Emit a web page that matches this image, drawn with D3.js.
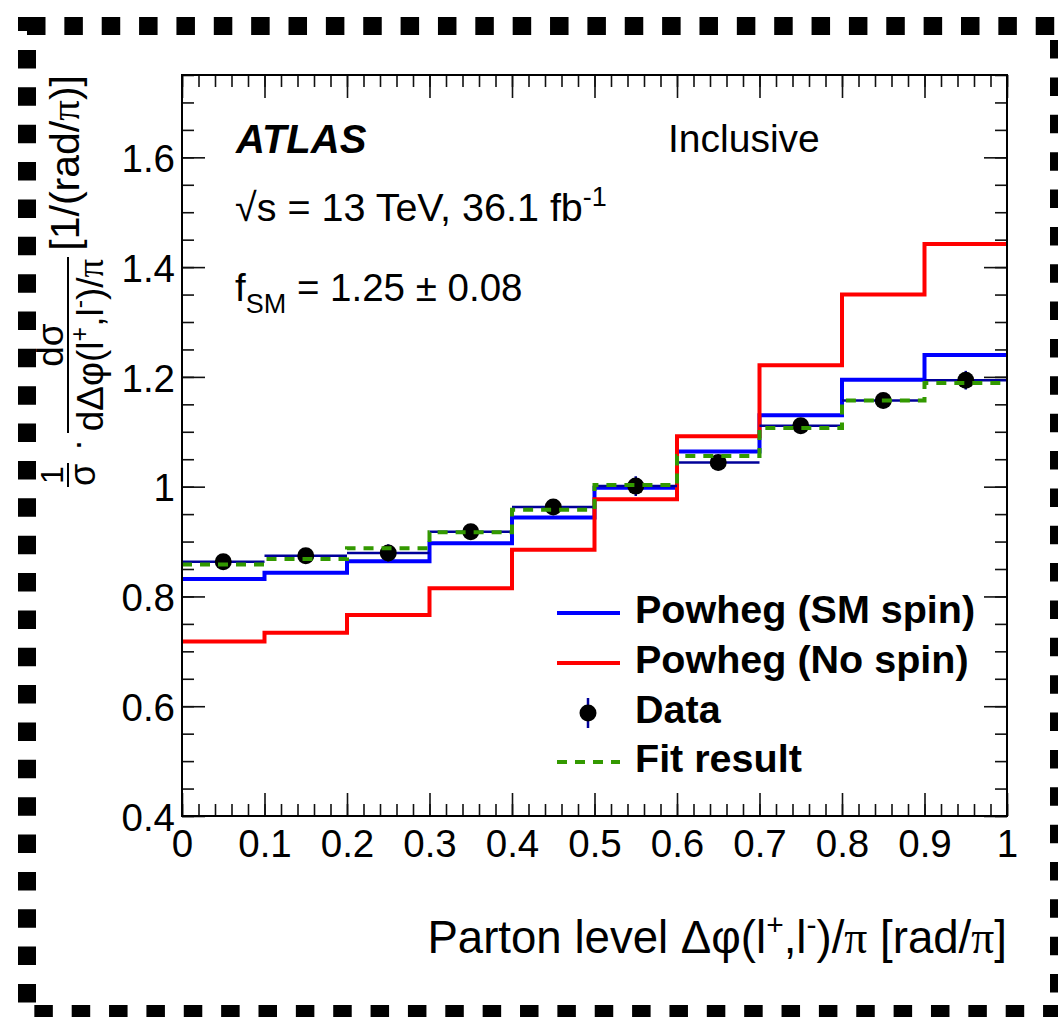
<!DOCTYPE html>
<html>
<head>
<meta charset="utf-8">
<script src="https://cdn.jsdelivr.net/npm/d3@7"></script>
<style>
  body { margin: 0; background: #fff; }
  svg { display: block; }
  text { font-family: "Liberation Sans", Arial, Helvetica, sans-serif; fill: #000; }
</style>
</head>
<body>
<div id="vis-container"></div>
<script>
let width_page = 1058;
let height_page = 1017;

// histogram bins and values
let bin_edges = [0, 0.1, 0.2, 0.3, 0.4, 0.5, 0.6, 0.7, 0.8, 0.9, 1.0];
let powheg_sm = [0.832, 0.843, 0.864, 0.897, 0.944, 0.998, 1.064, 1.130, 1.195, 1.240];
let powheg_nospin = [0.718, 0.734, 0.766, 0.815, 0.885, 0.977, 1.092, 1.221, 1.350, 1.442];
let fit_result = [0.858, 0.868, 0.888, 0.917, 0.958, 1.003, 1.056, 1.107, 1.157, 1.189];
let data_values = [0.863, 0.874, 0.879, 0.918, 0.963, 1.001, 1.044, 1.111, 1.157, 1.194];
let data_errors = [0.012, 0.012, 0.016, 0.012, 0.012, 0.018, 0.014, 0.014, 0.014, 0.017];

let x_ticks = [0, 0.1, 0.2, 0.3, 0.4, 0.5, 0.6, 0.7, 0.8, 0.9, 1.0];
let x_tick_labels = ["0", "0.1", "0.2", "0.3", "0.4", "0.5", "0.6", "0.7", "0.8", "0.9", "1"];
let y_ticks = [0.4, 0.6, 0.8, 1.0, 1.2, 1.4, 1.6];
let y_tick_labels = ["0.4", "0.6", "0.8", "1", "1.2", "1.4", "1.6"];

let legend_labels = ["Powheg (SM spin)", "Powheg (No spin)", "Data", "Fit result"];

let col_sm = "#0000ff", col_nospin = "#ff0000", col_fit = "#339900", col_err = "#000099";

let plot_l = 182, plot_r = 1007, plot_t = 75, plot_b = 816;

let svg = d3.select("#vis-container").append("svg")
    .attr("width", width_page)
    .attr("height", height_page);

// dashed outer border
svg.append("rect")
    .attr("x", 27).attr("y", 26)
    .attr("width", 1032).attr("height", 988)
    .attr("fill", "none")
    .attr("stroke", "#000")
    .attr("stroke-width", 18)
    .attr("stroke-dasharray", "18.5 18.86");

let x = d3.scaleLinear().domain([0, 1]).range([plot_l, plot_r]);
let y = d3.scaleLinear().domain([0.4, 1.75]).range([plot_b, plot_t]);

let x_minor = d3.range(0, 51).map(i => +(i * 0.02).toFixed(2));
let y_minor = d3.range(0, 28).map(i => +(0.4 + i * 0.05).toFixed(2));

function style_axis(g) {
  g.select(".domain").remove();
  g.selectAll(".tick line").attr("stroke", "#111").attr("stroke-width", 1.6);
  g.attr("font-family", "'Liberation Sans', Arial, sans-serif").attr("font-size", 38.5);
  g.selectAll("text").attr("fill", "#000");
}

// bottom axis
svg.append("g").attr("transform", `translate(0,${plot_b})`)
    .call(d3.axisBottom(x).tickValues(x_minor).tickFormat("").tickSizeInner(-12).tickSizeOuter(0))
    .call(style_axis);
svg.append("g").attr("transform", `translate(0,${plot_b})`)
    .call(d3.axisBottom(x).tickValues(x_ticks).tickFormat((d, i) => x_tick_labels[i])
      .tickSizeInner(-23).tickSizeOuter(0).tickPadding(14))
    .call(style_axis);
// top axis
svg.append("g").attr("transform", `translate(0,${plot_t})`)
    .call(d3.axisTop(x).tickValues(x_minor).tickFormat("").tickSizeInner(-12).tickSizeOuter(0))
    .call(style_axis);
svg.append("g").attr("transform", `translate(0,${plot_t})`)
    .call(d3.axisTop(x).tickValues(x_ticks).tickFormat("").tickSizeInner(-23).tickSizeOuter(0))
    .call(style_axis);
// left axis
svg.append("g").attr("transform", `translate(${plot_l},0)`)
    .call(d3.axisLeft(y).tickValues(y_minor).tickFormat("").tickSizeInner(-12).tickSizeOuter(0))
    .call(style_axis);
svg.append("g").attr("transform", `translate(${plot_l},0)`)
    .call(d3.axisLeft(y).tickValues(y_ticks).tickFormat((d, i) => y_tick_labels[i])
      .tickSizeInner(-23).tickSizeOuter(0).tickPadding(7))
    .call(style_axis)
    .selectAll("text").attr("dy", "0.37em");
// right axis
svg.append("g").attr("transform", `translate(${plot_r},0)`)
    .call(d3.axisRight(y).tickValues(y_minor).tickFormat("").tickSizeInner(-12).tickSizeOuter(0))
    .call(style_axis);
svg.append("g").attr("transform", `translate(${plot_r},0)`)
    .call(d3.axisRight(y).tickValues(y_ticks).tickFormat("").tickSizeInner(-23).tickSizeOuter(0))
    .call(style_axis);

// step histogram path
function steps(values) {
  let pts = [];
  values.forEach(function(v, i) {
    pts.push([bin_edges[i], v]);
    pts.push([bin_edges[i + 1], v]);
  });
  return d3.line().x(d => x(d[0])).y(d => y(d[1]))(pts);
}

svg.append("path").attr("d", steps(powheg_sm))
    .attr("fill", "none").attr("stroke", col_sm).attr("stroke-width", 4);
svg.append("path").attr("d", steps(powheg_nospin))
    .attr("fill", "none").attr("stroke", col_nospin).attr("stroke-width", 4);

// data: bin-width bars and vertical errors
let data_g = svg.append("g");
data_g.selectAll("line.xerr")
    .data(data_values).enter().append("line")
    .attr("class", "xerr")
    .attr("x1", (d, i) => x(bin_edges[i]))
    .attr("x2", (d, i) => x(bin_edges[i + 1]))
    .attr("y1", d => y(d)).attr("y2", d => y(d))
    .attr("stroke", col_err).attr("stroke-width", 2.5);
data_g.selectAll("line.yerr")
    .data(data_values).enter().append("line")
    .attr("class", "yerr")
    .attr("x1", (d, i) => x((bin_edges[i] + bin_edges[i + 1]) / 2))
    .attr("x2", (d, i) => x((bin_edges[i] + bin_edges[i + 1]) / 2))
    .attr("y1", (d, i) => y(d - data_errors[i]))
    .attr("y2", (d, i) => y(d + data_errors[i]))
    .attr("stroke", col_err).attr("stroke-width", 2.5);

svg.append("path").attr("d", steps(fit_result))
    .attr("fill", "none").attr("stroke", col_fit).attr("stroke-width", 4)
    .attr("stroke-dasharray", "10 8");

data_g.selectAll("circle")
    .data(data_values).enter().append("circle")
    .attr("cx", (d, i) => x((bin_edges[i] + bin_edges[i + 1]) / 2))
    .attr("cy", d => y(d))
    .attr("r", 8.5)
    .attr("fill", "#000");

// plot frame
svg.append("rect")
    .attr("x", plot_l).attr("y", plot_t)
    .attr("width", plot_r - plot_l).attr("height", plot_b - plot_t)
    .attr("fill", "none").attr("stroke", "#000").attr("stroke-width", 2);

// labels inside the frame
svg.append("text").attr("x", 236).attr("y", 153)
    .attr("font-size", 40).attr("font-weight", "bold").attr("font-style", "italic")
    .text("ATLAS");
svg.append("text").attr("x", 668).attr("y", 152)
    .attr("font-size", 39).text("Inclusive");

let energy = svg.append("text").attr("x", 235).attr("y", 221).attr("font-size", 39.5);
energy.append("tspan").text("\u221As = 13 TeV, 36.1 fb");
energy.append("tspan").attr("dy", -15).attr("font-size", 27).text("-1");

let fsm = svg.append("text").attr("x", 235).attr("y", 301).attr("font-size", 38.5);
fsm.append("tspan").text("f");
fsm.append("tspan").attr("dy", 12).attr("font-size", 27).text("SM");
fsm.append("tspan").attr("dy", -12).text(" = 1.25 \u00B1 0.08");

// legend
let leg_y = [613, 663, 713, 762];
svg.append("line").attr("x1", 557).attr("x2", 620).attr("y1", leg_y[0]).attr("y2", leg_y[0])
    .attr("stroke", col_sm).attr("stroke-width", 4);
svg.append("line").attr("x1", 557).attr("x2", 620).attr("y1", leg_y[1]).attr("y2", leg_y[1])
    .attr("stroke", col_nospin).attr("stroke-width", 4);
svg.append("line").attr("x1", 588).attr("x2", 588).attr("y1", leg_y[2] - 15).attr("y2", leg_y[2] + 15)
    .attr("stroke", col_err).attr("stroke-width", 2.5);
svg.append("circle").attr("cx", 588).attr("cy", leg_y[2]).attr("r", 8.5).attr("fill", "#000");
svg.append("line").attr("x1", 557).attr("x2", 620).attr("y1", leg_y[3]).attr("y2", leg_y[3])
    .attr("stroke", col_fit).attr("stroke-width", 4).attr("stroke-dasharray", "10 8");

svg.selectAll("text.legend")
    .data(legend_labels).enter().append("text")
    .attr("class", "legend")
    .attr("x", 635)
    .attr("y", (d, i) => leg_y[i] + 10)
    .attr("font-size", 39.5).attr("font-weight", "bold")
    .text(d => d);

// x axis title
let xt = svg.append("text").attr("x", 1007).attr("y", 953)
    .attr("text-anchor", "end").attr("font-size", 45.6);
xt.append("tspan").text("Parton level \u0394\u03C6(l");
xt.append("tspan").attr("dy", -18).attr("font-size", 30).text("+");
xt.append("tspan").attr("dy", 18).text(",l");
xt.append("tspan").attr("dy", -18).attr("font-size", 30).text("-");
xt.append("tspan").attr("dy", 18).text(")/");
xt.append("tspan").attr("font-family", "'Liberation Serif', serif").text("\u03C0");
xt.append("tspan").text(" [rad/");
xt.append("tspan").attr("font-family", "'Liberation Serif', serif").text("\u03C0");
xt.append("tspan").text("]");

// y axis title, rotated
let yt = svg.append("g").attr("transform", "translate(79,500) rotate(-90)");
yt.append("text").attr("x", 25).attr("y", -16).attr("text-anchor", "middle")
    .attr("font-size", 32).text("1");
yt.append("line").attr("x1", 13).attr("x2", 37).attr("y1", -11).attr("y2", -11)
    .attr("stroke", "#000").attr("stroke-width", 2);
yt.append("text").attr("x", 25).attr("y", 16).attr("text-anchor", "middle")
    .attr("font-size", 36).text("\u03C3");
yt.append("text").attr("x", 55).attr("y", 10).attr("text-anchor", "middle")
    .attr("font-size", 36).text("\u00B7");
yt.append("line").attr("x1", 67).attr("x2", 243).attr("y1", -11).attr("y2", -11)
    .attr("stroke", "#000").attr("stroke-width", 2);
yt.append("text").attr("x", 155).attr("y", -16).attr("text-anchor", "middle")
    .attr("font-size", 37).text("d\u03C3");
let den = yt.append("text").attr("x", 155).attr("y", 24).attr("text-anchor", "middle")
    .attr("font-size", 37);
den.append("tspan").text("d\u0394\u03C6(l");
den.append("tspan").attr("dy", -15).attr("font-size", 25).text("+");
den.append("tspan").attr("dy", 15).text(",l");
den.append("tspan").attr("dy", -15).attr("font-size", 25).text("-");
den.append("tspan").attr("dy", 15).text(")/");
den.append("tspan").attr("font-family", "'Liberation Serif', serif").text("\u03C0");
let unit = yt.append("text").attr("x", 425).attr("y", 0).attr("text-anchor", "end")
    .attr("font-size", 41);
unit.append("tspan").text("[1/(rad/");
unit.append("tspan").attr("font-family", "'Liberation Serif', serif").text("\u03C0");
unit.append("tspan").text(")]");
</script>
</body>
</html>
